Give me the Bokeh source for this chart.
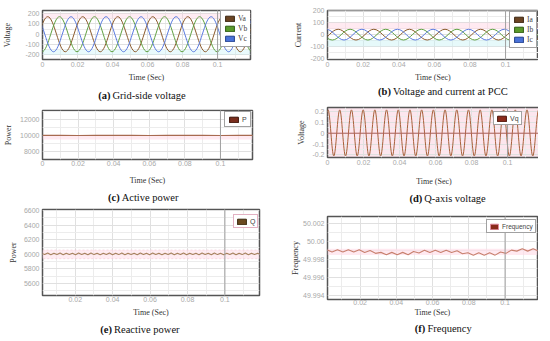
import numpy as np
from bokeh.plotting import figure
from bokeh.layouts import row, column
from bokeh.models import (Range1d, FixedTicker, PrintfTickFormatter, CustomJSTickFormatter,
                          Legend, LegendItem, BoxAnnotation, Span, Label)
from bokeh.embed import file_html
from bokeh.resources import INLINE

# ---------------- data (extrema / samples) ----------------
va_t = [-0.007, 0.003, 0.013, 0.023, 0.033, 0.043, 0.053, 0.063, 0.073, 0.083, 0.093, 0.103, 0.113, 0.123]
va_v = [-170, 170, -170, 170, -170, 170, -170, 170, -170, 170, -170, 170, -170, 170]
vb_t = [-0.0003, 0.0097, 0.0197, 0.0297, 0.0397, 0.0497, 0.0597, 0.0697, 0.0797, 0.0897, 0.0997, 0.1097, 0.1197]
vb_v = [-170, 170, -170, 170, -170, 170, -170, 170, -170, 170, -170, 170, -170]
vc_t = [-0.0037, 0.0063, 0.0163, 0.0263, 0.0363, 0.0463, 0.0563, 0.0663, 0.0763, 0.0863, 0.0963, 0.1063, 0.1163, 0.1263]
vc_v = [170, -170, 170, -170, 170, -170, 170, -170, 170, -170, 170, -170, 170, -170]

ia_t = [-0.004, 0.006, 0.016, 0.026, 0.036, 0.046, 0.056, 0.066, 0.076, 0.086, 0.096, 0.106, 0.116, 0.126]
ia_v = [-45, 45, -45, 45, -45, 45, -45, 45, -45, 45, -45, 45, -45, 45]
ib_t = [-0.0073, 0.0027, 0.0127, 0.0227, 0.0327, 0.0427, 0.0527, 0.0627, 0.0727, 0.0827, 0.0927, 0.1027, 0.1127, 0.1227]
ib_v = [45, -45, 45, -45, 45, -45, 45, -45, 45, -45, 45, -45, 45, -45]
ic_t = [-0.0007, 0.0093, 0.0193, 0.0293, 0.0393, 0.0493, 0.0593, 0.0693, 0.0793, 0.0893, 0.0993, 0.1093, 0.1193]
ic_v = [45, -45, 45, -45, 45, -45, 45, -45, 45, -45, 45, -45, 45]

p_t = [0.0, 0.01, 0.02, 0.03, 0.04, 0.05, 0.06, 0.07, 0.08, 0.09, 0.10, 0.11, 0.12]
p_v = [10000, 10008, 9995, 10004, 9998, 10006, 9996, 10003, 9999, 10005, 9997, 10004, 10000]

vq_t = [-0.0030, 0.0003, 0.0035, 0.0068, 0.0100, 0.0133, 0.0165, 0.0198, 0.0230, 0.0263,
        0.0295, 0.0328, 0.0360, 0.0393, 0.0425, 0.0458, 0.0490, 0.0523, 0.0555, 0.0588,
        0.0620, 0.0653, 0.0685, 0.0718, 0.0750, 0.0783, 0.0815, 0.0848, 0.0880, 0.0913,
        0.0945, 0.0978, 0.1010, 0.1043, 0.1075, 0.1108, 0.1140, 0.1173, 0.1205]
vq_v = [-0.21, 0.215, -0.21, 0.215, -0.21, 0.215, -0.21, 0.215, -0.21, 0.215,
        -0.21, 0.215, -0.21, 0.215, -0.21, 0.215, -0.21, 0.215, -0.21, 0.215,
        -0.21, 0.215, -0.21, 0.215, -0.21, 0.215, -0.21, 0.215, -0.21, 0.215,
        -0.21, 0.215, -0.21, 0.215, -0.21, 0.215, -0.21, 0.215, -0.21]

q_t = [0.00200, 0.00365, 0.00530, 0.00695, 0.00860, 0.01025, 0.01190, 0.01355, 0.01520, 0.01685,
       0.01850, 0.02015, 0.02180, 0.02345, 0.02510, 0.02675, 0.02840, 0.03005, 0.03170, 0.03335,
       0.03500, 0.03665, 0.03830, 0.03995, 0.04160, 0.04325, 0.04490, 0.04655, 0.04820, 0.04985,
       0.05150, 0.05315, 0.05480, 0.05645, 0.05810, 0.05975, 0.06140, 0.06305, 0.06470, 0.06635,
       0.06800, 0.06965, 0.07130, 0.07295, 0.07460, 0.07625, 0.07790, 0.07955, 0.08120, 0.08285,
       0.08450, 0.08615, 0.08780, 0.08945, 0.09110, 0.09275, 0.09440, 0.09605, 0.09770, 0.09935,
       0.10100, 0.10265, 0.10430, 0.10595, 0.10760, 0.10925, 0.11090, 0.11255, 0.11420, 0.11585,
       0.11750, 0.11915]
q_v = [6014, 5996, 6017, 5995, 6015, 5997, 6018, 5994, 6016, 5996,
       6014, 5995, 6017, 5997, 6015, 5994, 6018, 5996, 6016, 5995,
       6014, 5997, 6017, 5994, 6015, 5996, 6018, 5995, 6016, 5997,
       6014, 5994, 6017, 5996, 6015, 5995, 6018, 5997, 6016, 5994,
       6014, 5996, 6017, 5995, 6015, 5997, 6018, 5994, 6016, 5996,
       6014, 5995, 6017, 5997, 6015, 5994, 6018, 5996, 6016, 5995,
       6014, 5997, 6017, 5994, 6015, 5996, 6018, 5995, 6016, 5997,
       6014, 5996]

f_t = [0.0015, 0.0045, 0.0075, 0.0105, 0.0135, 0.0165, 0.0195, 0.0225, 0.0255, 0.0285,
       0.0315, 0.0345, 0.0375, 0.0405, 0.0435, 0.0465, 0.0495, 0.0525, 0.0555, 0.0585,
       0.0615, 0.0645, 0.0675, 0.0705, 0.0735, 0.0765, 0.0795, 0.0825, 0.0855, 0.0885,
       0.0915, 0.0945, 0.0975, 0.1005, 0.1035, 0.1065, 0.1095, 0.1125, 0.1155, 0.1185]
f_v = [49.99908, 49.99882, 49.99908, 49.99882, 49.99908, 49.99882, 49.99908, 49.99877, 49.99898, 49.99867,
       49.99878, 49.99852, 49.99878, 49.99852, 49.99878, 49.99852, 49.99888, 49.99872, 49.99903, 49.99877,
       49.99903, 49.99877, 49.99903, 49.99877, 49.99896, 49.99862, 49.99873, 49.99847, 49.99873, 49.99847,
       49.99873, 49.99847, 49.99883, 49.99867, 49.99903, 49.99892, 49.99918, 49.99892, 49.99918, 49.99892]

x_ticks = [0, 0.02, 0.04, 0.06, 0.08, 0.1]
x_minor = [0.01, 0.03, 0.05, 0.07, 0.09, 0.11]

SERIF = "Liberation Serif"
SANS = "Liberation Sans"
K = 0.3634
W = 267
NAN = float("nan")


def base(left, fw, right, top, fh, bottom, xr, yr, yticks, yminor, ylabel,
         ylab_standoff, xlab_standoff, xtick_standoff):
    p = figure(frame_width=fw, frame_height=fh, min_border_left=left, min_border_right=right,
               min_border_top=top, min_border_bottom=bottom,
               x_range=Range1d(*xr), y_range=Range1d(*yr),
               output_backend="svg", toolbar_location=None)
    p.xaxis.ticker = FixedTicker(ticks=x_ticks, minor_ticks=x_minor)
    p.yaxis.ticker = FixedTicker(ticks=yticks, minor_ticks=yminor)
    p.xaxis.formatter = PrintfTickFormatter(format="%g")
    p.yaxis.formatter = PrintfTickFormatter(format="%g")
    for ax in (p.xaxis[0], p.yaxis[0]):
        ax.axis_line_color = None
        ax.major_tick_line_color = None
        ax.minor_tick_line_color = None
        ax.major_tick_out = 0
        ax.major_tick_in = 0
        ax.minor_tick_out = 0
        ax.minor_tick_in = 0
        ax.major_label_text_font = SANS
        ax.major_label_text_font_size = "7px"
        ax.major_label_text_color = "#a8a8a8"
        ax.axis_label_text_font = SERIF
        ax.axis_label_text_font_size = "8px"
        ax.axis_label_text_font_style = "normal"
        ax.axis_label_text_color = "#333333"
    p.xaxis.axis_label = "Time (Sec)"
    p.yaxis.axis_label = ylabel
    p.yaxis.major_label_standoff = 3
    p.yaxis.axis_label_standoff = ylab_standoff
    p.xaxis.major_label_standoff = xtick_standoff
    p.xaxis.axis_label_standoff = xlab_standoff
    for g in (p.xgrid[0], p.ygrid[0]):
        g.grid_line_color = "#e0e0e0"
        g.minor_grid_line_color = "#ececec"
    p.outline_line_color = "#555555"
    p.outline_line_width = 1.5
    p.add_layout(Span(location=0.1, dimension="height", line_color="#a0a0a0", line_width=1))
    return p


def sine_path(p, t, v, color, width=1.0):
    t = np.asarray(t, float)
    v = np.asarray(v, float)
    dt = np.diff(t)
    p.bezier(x0=t[:-1], y0=v[:-1], x1=t[1:], y1=v[1:],
             cx0=t[:-1] + K * dt, cy0=v[:-1], cx1=t[1:] - K * dt, cy1=v[1:],
             line_color=color, line_width=width)


def add_legend(p, items, loc, font, size="7px", border="#444444", lh=8, spacing=1, gw=11, pad=3):
    lis = []
    for lab, fill, line in items:
        r = p.quad(left=[NAN], right=[NAN], top=[NAN], bottom=[NAN],
                   fill_color=fill, line_color=line, line_width=1)
        lis.append(LegendItem(label=lab, renderers=[r]))
    lg = Legend(items=lis, location=loc, label_text_font=font, label_text_font_size=size,
                label_height=lh, label_width=1, glyph_height=7, glyph_width=gw, spacing=spacing,
                padding=pad, margin=0, label_standoff=3, border_line_color=border,
                border_line_width=1.5, background_fill_color="white", background_fill_alpha=1.0)
    p.add_layout(lg)


def cap_fig(tag, text, x, y, h):
    c = figure(width=W, height=h, min_border_left=0, min_border_right=0, min_border_top=0,
               min_border_bottom=0, x_axis_location=None, y_axis_location=None,
               x_range=Range1d(0, W), y_range=Range1d(0, h),
               output_backend="svg", toolbar_location=None)
    c.grid.visible = False
    c.outline_line_color = None
    c.add_layout(Label(x=x, y=y, text=tag,
                       text_font=SERIF, text_font_style="bold", text_font_size="10.5px",
                       text_color="#111111", text_align="right", text_baseline="middle"))
    c.add_layout(Label(x=x + 2.6, y=y, text=text,
                       text_font=SERIF, text_font_style="normal", text_font_size="10.5px",
                       text_color="#111111", text_align="left", text_baseline="middle"))
    return c


def band(p, lo, hi, color, alpha, dash=None):
    kw = dict(line_color=None)
    if dash:
        kw = dict(line_color="#e79ab4", line_dash=dash, line_width=1)
    p.add_layout(BoxAnnotation(bottom=lo, top=hi, fill_color=color, fill_alpha=alpha, level="underlay", **kw))


C_A = ("#8b5a2b", "#5fa040", "#5b7be0")

# (a) Grid-side voltage
pa = base(38, 208, 21, 10, 49, 24, (0, 0.1188), (-245, 230),
          [-200, -100, 0, 100, 200], [-150, -50, 50, 150], "Voltage", 10, 3, 2)
band(pa, 150, 200, "#ffc8dc", 0.35)
band(pa, -200, -150, "#bff0f5", 0.35)
sine_path(pa, va_t, va_v, C_A[0])
sine_path(pa, vb_t, vb_v, C_A[1])
sine_path(pa, vc_t, vc_v, C_A[2])
add_legend(pa, [("Va", "#6b4423", "#3a2512"), ("Vb", "#5a9a2a", "#2f5a12"), ("Vc", "#4a72d8", "#23408a")],
           (178, 12), SERIF, size="7.5px")
ca = cap_fig("(a)", "Grid-side voltage", 89, 7, 18)

# (b) Voltage and current at PCC
pb = base(54, 211, 2, 10, 49, 24, (0, 0.1185), (-208, 202),
          [-200, -100, 0, 100, 200], [-150, -50, 50, 150], "Current", 4, 3, 2)
band(pb, 45, 100, "#ffd0e0", 0.45)
band(pb, -100, -45, "#c8f2f5", 0.45)
sine_path(pb, ia_t, ia_v, C_A[0])
sine_path(pb, ib_t, ib_v, C_A[1])
sine_path(pb, ic_t, ic_v, C_A[2])
add_legend(pb, [("Ia", "#6b4423", "#3a2512"), ("Ib", "#5a9a2a", "#2f5a12"), ("Ic", "#4a72d8", "#23408a")],
           (182, 11), SERIF, size="7.5px")
cb = cap_fig("(b)", "Voltage and current at PCC", 81, 11, 18)

# (c) Active power
pc = base(38, 210, 19, 8, 49, 28, (0, 0.118), (7000, 13100),
          [8000, 10000, 12000], [7000, 9000, 11000, 13000], "Power", 4, 7, 1)
band(pc, 9500, 9950, "#ffd6e4", 0.5)
pc.line(p_t, p_v, line_color="#a86a50", line_width=1.1)
add_legend(pc, [("P", "#7a2e1e", "#3a1208")], (182, 32), SANS)
cc = cap_fig("(c)", "Active power", 101, 8, 18)

# (d) Q-axis voltage
pd = base(52, 213, 2, 5, 50, 30, (0, 0.1183), (-0.224, 0.237),
          [-0.2, -0.1, 0, 0.1, 0.2], [-0.15, -0.05, 0.05, 0.15], "Voltage", 3, 9, 2)
pd.background_fill_color = "#fce6ee"
pd.add_layout(Span(location=0, dimension="width", line_color="#b0605a", line_width=1))
sine_path(pd, vq_t, vq_v, "#a8603a", 1.0)
add_legend(pd, [("Vq", "#8b2a1a", "#4a1208")], (182, 32), SANS, pad=2)
cd = cap_fig("(d)", "Q-axis voltage", 121, 8, 18)

# (e) Reactive power
pe = base(33, 217, 17, 4, 86, 22, (0.0025, 0.1185), (5435, 6615),
          [5600, 5800, 6000, 6200, 6400, 6600], [5500, 5700, 5900, 6100, 6300, 6500], "Power", 3, 3, 1)
band(pe, 5940, 6060, "#ffe0ea", 0.6, dash="2 2")
pe.line(q_t, q_v, line_color="#a8825e", line_width=1.1)
add_legend(pe, [("Q", "#6b4a20", "#3a2a10")], (191, 67), SANS, border="#c86488", pad=2)
ce = cap_fig("(e)", "Reactive power", 91, 7.5, 17)

# (f) Frequency
pf = base(56, 210, 1, 10, 83, 19, (0.002, 0.1179), (49.9935, 50.0028),
          [49.994, 49.996, 49.998, 50.0, 50.002], [49.995, 49.997, 49.999, 50.001], "Frequency", 0, 0, 0)
pf.yaxis.formatter = CustomJSTickFormatter(code="return Math.abs(tick - 50) < 1e-9 ? '50.00' : tick.toFixed(3);")
band(pf, 49.9985, 49.9992, "#ffdbe6", 0.6)
pf.line(f_t, f_v, line_color="#c8806e", line_width=1.1)
add_legend(pf, [("Frequency", "#8a2a1a", "#e08aa0")], (159, 66), SANS, size="6.5px", gw=10, pad=2)
cf = cap_fig("(f)", "Frequency", 125, 8, 17)

layout = row(column(pa, ca, pc, cc, pe, ce), column(pb, cb, pd, cd, pf, cf))
open("out.html", "w").write(file_html(layout, INLINE))
